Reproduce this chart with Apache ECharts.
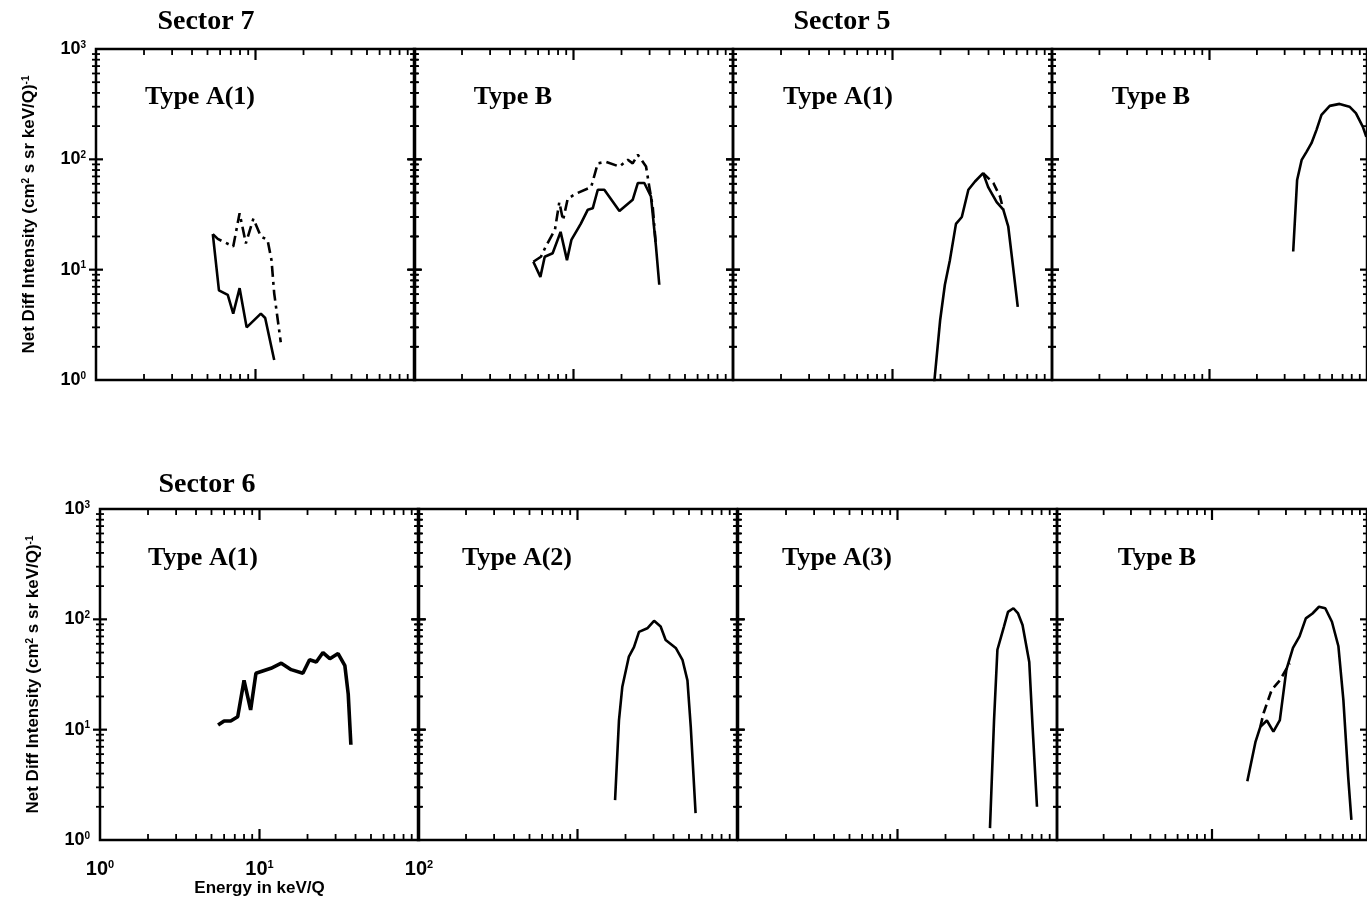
<!DOCTYPE html>
<html>
<head>
<meta charset="utf-8">
<script src="https://cdn.jsdelivr.net/npm/echarts@6/dist/echarts.min.js"></script>
<style>
  html, body { margin: 0; padding: 0; background: #fff; }
  #chart { width: 1367px; height: 904px; }
</style>
</head>
<body>
<div id="chart"></div>
<script>
// Sector 7, Type A(1)
var s7a1SolidE = [5.4, 5.9, 6.7, 7.25, 7.95, 8.8, 10.8, 11.5, 13.1];
var s7a1SolidI = [21, 6.5, 5.9, 4.0, 6.8, 3.0, 4.0, 3.65, 1.52];
var s7a1DashE = [5.4, 5.8, 7.25, 7.95, 8.7, 9.7, 10.8, 11.9, 12.6, 13.1, 14.4];
var s7a1DashI = [21, 19, 16.2, 32.5, 17.3, 29, 20, 18.6, 12.2, 6.1, 2.2];
// Sector 7, Type B
var s7bSolidE = [5.6, 6.2, 6.6, 7.4, 8.3, 9.1, 9.7, 11.1, 12.3, 13.2, 14.2, 15.6, 19.4, 23.5, 25.3, 27.8, 30.6, 32.9, 34.5];
var s7bSolidI = [11.8, 8.6, 13.1, 14.1, 22, 12.2, 18.6, 26, 35, 36, 53, 53, 34, 43, 61, 61, 46, 16.2, 7.3];
var s7bDashE = [5.6, 6.25, 6.7, 7.65, 8.15, 8.6, 9.2, 10.4, 12.9, 14.2, 16, 19.4, 21.9, 23.5, 25.3, 28.5, 29.9, 31.4, 32.9];
var s7bDashI = [11.8, 13.1, 16.2, 23, 41, 28, 44, 49, 56, 92, 95, 86, 99, 92, 110, 86, 56, 37, 16.2];
// Sector 5, Type A(1)
var s5a1SolidE = [18.2, 19.9, 21.3, 22.9, 25, 27.2, 29.9, 32.9, 37, 39.8, 45, 49.5, 53.2, 57, 61];
var s5a1SolidI = [0.9, 3.5, 7.3, 12.2, 26, 30, 53, 63, 75, 56, 41, 35, 24.5, 10.6, 4.6];
var s5a1DashE = [37, 42.9, 47.2, 49.5];
var s5a1DashI = [75, 61, 46, 35];
// Sector 5, Type B
var s5bSolidE = [34, 36, 38.5, 41.3, 44.4, 47.8, 51.4, 58, 67, 77.4, 85, 94, 99];
var s5bSolidI = [14.6, 65, 99, 117, 140, 185, 253, 305, 318, 300, 262, 198, 160];
// Sector 6, Type A(1)
var s6a1E = [5.5, 6.0, 6.6, 7.3, 8.0, 8.8, 9.5, 11.8, 13.7, 15.8, 18.7, 20.6, 22.7, 25, 27.6, 31.1, 34.3, 36, 37.4];
var s6a1I = [11, 12, 12, 13.1, 28, 15.1, 32.5, 36, 40, 35, 32.5, 43, 41, 50, 44, 49, 38, 21, 7.3];
// Sector 6, Type A(2)
var s6a2E = [17.2, 18.2, 19.1, 21, 22.6, 24.3, 27.4, 30.2, 33.2, 35.7, 41.3, 45.5, 48.9, 51.3, 55];
var s6a2I = [2.3, 12.2, 24.5, 46, 56, 77, 83, 97, 86, 65, 55, 43, 28, 10.6, 1.75];
// Sector 6, Type A(3)
var s6a3E = [38, 40.3, 42.3, 46.5, 49.3, 53.3, 57, 60.8, 67, 70.3, 74.9];
var s6a3I = [1.28, 12.2, 53, 86, 117, 126, 113, 89, 41, 10.6, 2.0];
// Sector 6, Type B
var s6bSolidE = [16.9, 19.1, 20.5, 22.6, 24.9, 27.4, 30.2, 33.3, 36.7, 40.3, 44.5, 49, 53.8, 59.4, 65.4, 70.4, 75.6, 79.3];
var s6bSolidI = [3.4, 7.8, 10.6, 12.1, 9.6, 12.2, 35, 55, 70, 102, 113, 130, 126, 95, 57, 18.6, 3.75, 1.52];
var s6bDashE = [20.5, 21.5, 24.3, 27.4, 31.7];
var s6bDashI = [10.6, 14.1, 23, 28, 40];

var panelLabels = ['Type A(1)', 'Type B', 'Type A(1)', 'Type B', 'Type A(1)', 'Type A(2)', 'Type A(3)', 'Type B'];
var xMinorTicks = [2, 3, 4, 5, 6, 7, 8, 9, 20, 30, 40, 50, 60, 70, 80, 90];
var xMajorTicks = [10];
var yMinorTicks = [2, 3, 4, 5, 6, 7, 8, 9, 20, 30, 40, 50, 60, 70, 80, 90, 200, 300, 400, 500, 600, 700, 800, 900];
var yMajorTicks = [10, 100];

var panelLines = [
  [[s7a1SolidE, s7a1SolidI, 'solid'], [s7a1DashE, s7a1DashI, 'dashdot']],
  [[s7bSolidE, s7bSolidI, 'solid'], [s7bDashE, s7bDashI, 'dashdot']],
  [[s5a1SolidE, s5a1SolidI, 'solid'], [s5a1DashE, s5a1DashI, 'dashed']],
  [[s5bSolidE, s5bSolidI, 'solid']],
  [[s6a1E, s6a1I, 'thick']],
  [[s6a2E, s6a2I, 'solid']],
  [[s6a3E, s6a3I, 'solid']],
  [[s6bSolidE, s6bSolidI, 'solid'], [s6bDashE, s6bDashI, 'dashed']]
];

var gridPos = [[96, 49], [414, 49], [733, 49], [1052, 49], [100, 509], [418, 509], [738, 509], [1057, 509]];
var gridW = 319, gridH = 331;

function zip(a, b) {
  return a.map(function (v, i) { return [v, b[i]]; });
}

function supLabel(v) {
  var e = Math.log(v) / Math.LN10;
  var r = Math.round(e);
  if (Math.abs(e - r) > 1e-6) return '';
  return '10{s|' + r + '}';
}

var grids = [], xAxes = [], yAxes = [], series = [], graphics = [];

gridPos.forEach(function (p, i) {
  grids.push({
    left: p[0], top: p[1], width: gridW, height: gridH,
    show: true, borderColor: '#000', borderWidth: 2.5, backgroundColor: 'transparent'
  });
  xAxes.push({
    type: 'log', logBase: 10, min: 1, max: 100, gridIndex: i,
    axisLine: { show: false }, axisTick: { show: false }, splitLine: { show: false },
    axisLabel: {
      show: i === 4, margin: 19, formatter: supLabel, color: '#000',
      fontFamily: 'Liberation Sans', fontSize: 20, fontWeight: 'bold',
      rich: { s: { fontSize: 11, lineHeight: 10, verticalAlign: 'top', fontWeight: 'bold', fontFamily: 'Liberation Sans' } }
    },
    name: i === 4 ? 'Energy in keV/Q' : '', nameLocation: 'middle', nameGap: 40,
    nameTextStyle: { fontFamily: 'Liberation Sans', fontSize: 17, fontWeight: 'bold', color: '#000' }
  });
  yAxes.push({
    type: 'log', logBase: 10, min: 1, max: 1000, gridIndex: i,
    axisLine: { show: false }, axisTick: { show: false }, splitLine: { show: false },
    axisLabel: {
      show: i === 0 || i === 4, margin: 10, formatter: supLabel, color: '#000',
      fontFamily: 'Liberation Sans', fontSize: 18, fontWeight: 'bold',
      rich: { s: { fontSize: 10, lineHeight: 8, verticalAlign: 'top', fontWeight: 'bold', fontFamily: 'Liberation Sans' } }
    },
    name: (i === 0 || i === 4) ? 'Net Diff Intensity (cm{s|2} s sr keV/Q){s|-1}' : '',
    nameLocation: 'middle', nameGap: 58, nameRotate: 90,
    nameTextStyle: {
      fontFamily: 'Liberation Sans', fontSize: 17, fontWeight: 'bold', color: '#000',
      rich: { s: { fontSize: 10, lineHeight: 9, verticalAlign: 'top', fontWeight: 'bold', fontFamily: 'Liberation Sans' } }
    }
  });

  panelLines[i].forEach(function (ln) {
    var type = 'solid', width = 2.6;
    if (ln[2] === 'dashdot') type = [11, 5, 3, 5];
    if (ln[2] === 'dashed') type = [9, 5];
    if (ln[2] === 'thick') width = 3.6;
    series.push({
      type: 'line', xAxisIndex: i, yAxisIndex: i, data: zip(ln[0], ln[1]),
      showSymbol: false, symbol: 'none', clip: true, silent: true,
      lineStyle: { color: '#000', width: width, type: type }
    });
  });

  // tick marks drawn on the axis scale
  var xt = xMinorTicks.map(function (v) { return [v, 1, 0]; })
    .concat(xMajorTicks.map(function (v) { return [v, 1, 1]; }));
  var yt = yMinorTicks.map(function (v) { return [1, v, 0]; })
    .concat(yMajorTicks.map(function (v) { return [1, v, 1]; }));
  series.push({
    type: 'custom', xAxisIndex: i, yAxisIndex: i, data: xt, silent: true, clip: false,
    renderItem: function (params, api) {
      var v = api.value(0), major = api.value(2) === 1;
      var b = api.coord([v, 1]), t = api.coord([v, 1000]);
      var len = major ? 11 : 6;
      var st = { stroke: '#000', lineWidth: major ? 2.2 : 1.8 };
      return { type: 'group', children: [
        { type: 'line', shape: { x1: b[0], y1: b[1], x2: b[0], y2: b[1] - len }, style: st },
        { type: 'line', shape: { x1: t[0], y1: t[1], x2: t[0], y2: t[1] + len }, style: st }
      ] };
    }
  });
  series.push({
    type: 'custom', xAxisIndex: i, yAxisIndex: i, data: yt, silent: true, clip: false,
    renderItem: function (params, api) {
      var v = api.value(1), major = api.value(2) === 1;
      var l = api.coord([1, v]), r = api.coord([100, v]);
      var len = major ? 7 : 4;
      var st = { stroke: '#000', lineWidth: major ? 2.2 : 1.8 };
      return { type: 'group', children: [
        { type: 'line', shape: { x1: l[0] - len, y1: l[1], x2: l[0] + len, y2: l[1] }, style: st },
        { type: 'line', shape: { x1: r[0] - len, y1: r[1], x2: r[0] + len, y2: r[1] }, style: st }
      ] };
    }
  });
});

var typePos = [[200, 97], [513, 97], [838, 97], [1151, 97], [203, 558], [517, 558], [837, 558], [1157, 558]];
panelLabels.forEach(function (t, i) {
  graphics.push({
    type: 'text', x: typePos[i][0], y: typePos[i][1], silent: true,
    style: { text: t, font: 'bold 26px "Liberation Serif"', fill: '#000', align: 'center', verticalAlign: 'middle' }
  });
});
[['Sector 7', 206, 22], ['Sector 5', 842, 22], ['Sector 6', 207, 485]].forEach(function (s) {
  graphics.push({
    type: 'text', x: s[1], y: s[2], silent: true,
    style: { text: s[0], font: 'bold 28px "Liberation Serif"', fill: '#000', align: 'center', verticalAlign: 'middle' }
  });
});

var chart = echarts.init(document.getElementById('chart'));
chart.setOption({
  animation: false,
  backgroundColor: '#fff',
  grid: grids,
  xAxis: xAxes,
  yAxis: yAxes,
  series: series,
  graphic: graphics
});
</script>
</body>
</html>
